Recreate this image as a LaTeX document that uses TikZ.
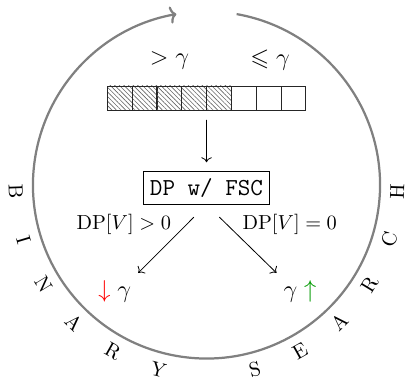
\documentclass[tikz,border=0pt]{standalone}
\usepackage{amssymb}
\usetikzlibrary{patterns.meta,arrows.meta}

\begin{document}
\begin{tikzpicture}[
		loop/.style={draw=gray, line width=1.1pt},
		cell/.style={draw=black!85, minimum width=0.43cm, minimum height=0.415cm, inner sep=0pt, outer sep=0pt},
		hatched/.style={cell, pattern={Lines[angle=-45, distance=1.6pt, line width=0.3pt]}, pattern color=black!60},
		letter/.style={font=\normalsize},
		branch/.style={->, thin},
		cond/.style={font=\normalsize}
	]

	% Margins
	\useasboundingbox (-3.570,-3.371) rectangle (3.449,3.198);

	% Search loop
	\draw[loop, -{To[length=3.2pt, width=8.5pt]}] (80:3) arc[start angle=80, end angle=-260, radius=3];

	% Letters round the loop
	\foreach \i/\ch in {0/B, 1/I, 2/N, 3/A, 4/R, 5/Y, 7/S, 8/E, 9/A, 10/R, 11/C, 12/H} {
			\pgfmathsetmacro{\a}{182 + \i*14.67}
			\node[letter, rotate=\a+90] (l\i) at (\a:3.3) {\ch};
		}

	% Threshold bar: 5 hatched, 3 empty
	\foreach \n in {1,...,8} {
			\pgfmathsetmacro{\x}{-1.715 + (\n-0.5)*0.429}
			\ifnum\n<6
				\node[hatched] (c\n) at (\x,1.504) {};
			\else
				\node[cell] (c\n) at (\x,1.504) {};
			\fi
		}
	\node[font=\large] (gt) at (-0.64,2.16) {$>\gamma$};
	\node[font=\large] (le) at (1.10,2.16) {$\leqslant\gamma$};

	% Solver
	\node[draw, font=\large\ttfamily] (dp) at (0,-0.05) {DP w/ FSC};
	\draw[branch, shorten <=0.17cm, shorten >=0.155cm] (c4.south east) -- (dp.north);

	% Outcomes
	\node[font=\large, anchor=north east] (lo) at (-1.18,-1.52) {$\color{red}\downarrow\color{black}\gamma$};
	\node[font=\large, anchor=north west] (hi) at (1.21,-1.52) {$\gamma\color{green!60!black}\uparrow$};
	\draw[branch, shorten <=0.31cm] (dp.south) -- (lo.north east);
	\draw[branch, shorten <=0.31cm] (dp.south) -- (hi.north west);
	\node[cond] (gtz) at (-1.43,-0.69) {$\mathrm{DP}[V] > 0$};
	\node[cond] (eqz) at (1.44,-0.69) {$\mathrm{DP}[V] = 0$};

\end{tikzpicture}
\end{document}
